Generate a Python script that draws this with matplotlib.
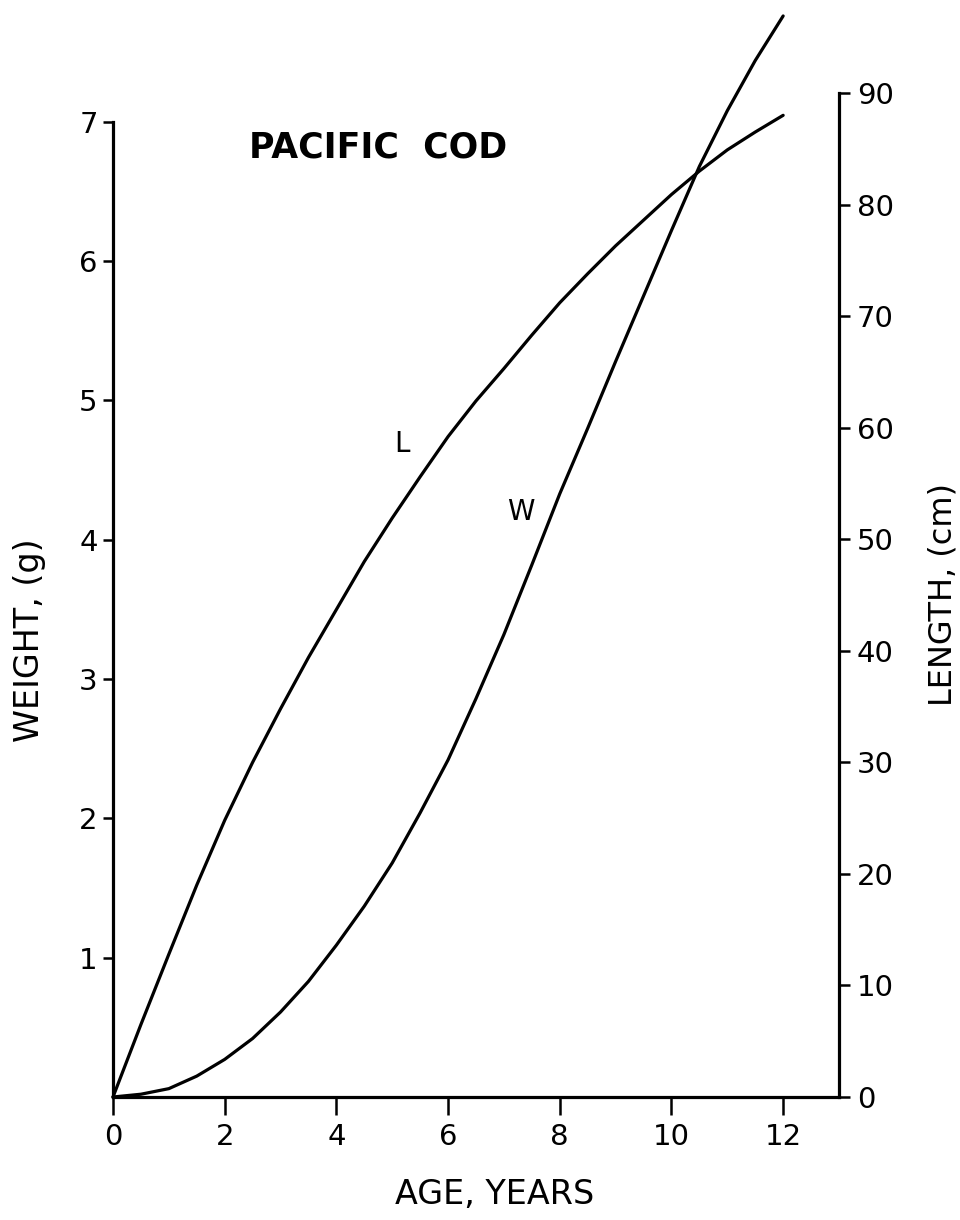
import matplotlib
matplotlib.use("Agg")
import matplotlib.pyplot as plt

# ---- data ----
age = [0, 0.5, 1, 1.5, 2, 2.5, 3, 3.5, 4, 4.5, 5, 5.5, 6, 6.5, 7, 7.5, 8,
       8.5, 9, 9.5, 10, 10.5, 11, 11.5, 12]
length_cm = [0, 6.5, 12.8, 19.0, 24.8, 30.0, 34.8, 39.4, 43.7, 48.0, 51.9,
             55.6, 59.2, 62.4, 65.3, 68.3, 71.2, 73.8, 76.3, 78.6, 80.9,
             83.0, 84.9, 86.5, 88.0]
weight_g = [0, 0.02, 0.06, 0.15, 0.27, 0.42, 0.61, 0.83, 1.09, 1.37, 1.68,
            2.04, 2.42, 2.86, 3.32, 3.82, 4.33, 4.80, 5.28, 5.75, 6.22,
            6.68, 7.08, 7.44, 7.76]
x_ticks = [0, 2, 4, 6, 8, 10, 12]
w_ticks = [1, 2, 3, 4, 5, 6, 7]
l_ticks = [0, 10, 20, 30, 40, 50, 60, 70, 80, 90]

plt.rcParams['font.family'] = ['DejaVu Sans']

fig = plt.figure(figsize=(9.6, 12.2), dpi=100)
ax = fig.add_axes([113/960, 123/1220, 726/960, 1004/1220])
ax2 = ax.twinx()

lw = 2.3
ax.plot(age, weight_g, color='black', lw=lw, clip_on=False,
        solid_capstyle='round', solid_joinstyle='round')
ax2.plot(age, length_cm, color='black', lw=lw, clip_on=False,
         solid_capstyle='round', solid_joinstyle='round')

ax.set_xlim(0, 13)
ax.set_ylim(0, 7.207)
ax2.set_ylim(0, 90)

for s in ['top', 'right']:
    ax.spines[s].set_visible(False)
for s in ['top', 'left', 'bottom']:
    ax2.spines[s].set_visible(False)
ax.spines['left'].set_bounds(0, 7)
ax.spines['bottom'].set_bounds(0, 13)
ax2.spines['right'].set_bounds(0, 90)
for sp in [ax.spines['left'], ax.spines['bottom'], ax2.spines['right']]:
    sp.set_linewidth(2.3)

ax.set_xticks(x_ticks)
ax.set_xticklabels([str(v) for v in x_ticks])
ax.set_yticks(w_ticks)
ax.set_yticklabels([str(v) for v in w_ticks])
ax2.set_yticks(l_ticks)
ax2.set_yticklabels([str(v) for v in l_ticks])

ax.tick_params(axis='x', direction='out', length=13, width=1.8, pad=6, labelsize=21)
ax.tick_params(axis='y', direction='out', length=7, width=1.8, pad=4, labelsize=21)
ax2.tick_params(axis='y', direction='out', length=8, width=1.8, pad=5, labelsize=21)

fig.text(495/960, 1 - 1195/1220, 'AGE, YEARS', ha='center', va='center', fontsize=24)
fig.text(30/960, 1 - 640/1220, 'WEIGHT, (g)', ha='center', va='center',
         rotation=90, fontsize=24)
fig.text(943/960, 1 - 595/1220, 'LENGTH, (cm)', ha='center', va='center',
         rotation=90, fontsize=23)
fig.text(378/960, 1 - 148/1220, 'PACIFIC  COD', ha='center', va='center',
         fontsize=25, fontweight='bold')
fig.text(402/960, 1 - 444/1220, 'L', ha='center', va='center', fontsize=20)
fig.text(521/960, 1 - 512/1220, 'W', ha='center', va='center', fontsize=20)

fig.savefig('out.png', dpi=100, facecolor='white')
